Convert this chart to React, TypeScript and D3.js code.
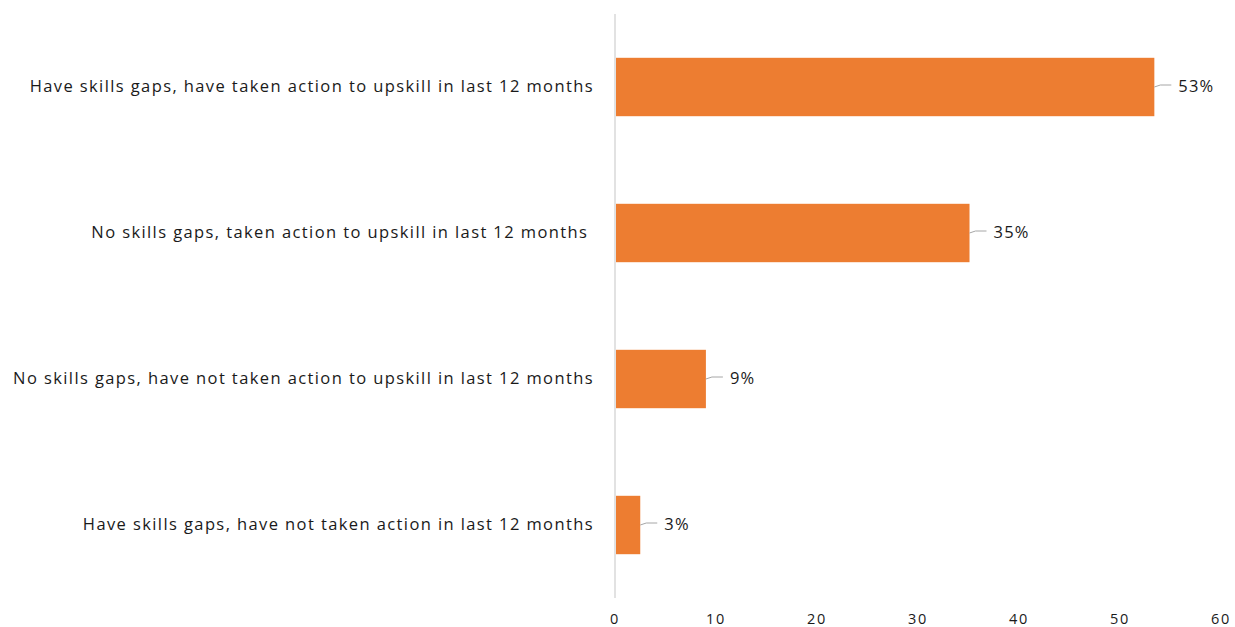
import React from "react";
import * as d3 from "d3";

const categories = [
  "Have skills gaps, have taken action to upskill in last 12 months",
  "No skills gaps, taken action to upskill in last 12 months ",
  "No skills gaps, have not taken action to upskill in last 12 months",
  "Have skills gaps, have not taken action in last 12 months",
];
const values = [53.4, 35.1, 9.0, 2.5];
const valueLabels = ["53%", "35%", "9%", "3%"];
const xTicks = [0, 10, 20, 30, 40, 50, 60];

const W = 1235;
const H = 627;
const FONT = "'Open Sans', sans-serif";

export default function App() {
  const x = d3.scaleLinear().domain([0, 60]).range([615, 1221]);
  const y = d3.scaleBand<string>().domain(categories).range([14, 598]).paddingInner(0.6).paddingOuter(0.3);
  const bw = y.bandwidth();
  return (
    <svg width={W} height={H} style={{ position: "absolute", left: 0, top: 0, background: "#fff" }}>
      <line x1={x(0)} x2={x(0)} y1={14} y2={598} stroke="#d9d9d9" strokeWidth={1.5} />
      {categories.map((c, i) => {
        const yy = y(c)!;
        const xe = x(values[i]);
        const cy = yy + bw / 2;
        return (
          <g key={c}>
            <rect x={x(0) + 1} y={yy} width={xe - x(0) - 1} height={bw} fill="#ED7D31" />
            <text x={594} y={cy - 2} textAnchor="end" dominantBaseline="central" fontFamily={FONT} fontSize={16.5} letterSpacing={1.4} fill="#1a1a1a" style={{ whiteSpace: "pre" }}>
              {c}
            </text>
            <path d={`M${xe},${cy} L${xe + 6},${cy - 2} L${xe + 17},${cy - 2}`} fill="none" stroke="#a6a6a6" strokeWidth={1} />
            <text x={xe + 24} y={cy - 2} dominantBaseline="central" fontFamily={FONT} fontSize={16.5} letterSpacing={1.2} fill="#1a1a1a">
              {valueLabels[i]}
            </text>
          </g>
        );
      })}
      {xTicks.map((t) => (
        <text key={t} x={x(t)} y={624} textAnchor="middle" fontFamily={FONT} fontSize={14.5} letterSpacing={1.6} fill="#1a1a1a">
          {t}
        </text>
      ))}
    </svg>
  );
}
